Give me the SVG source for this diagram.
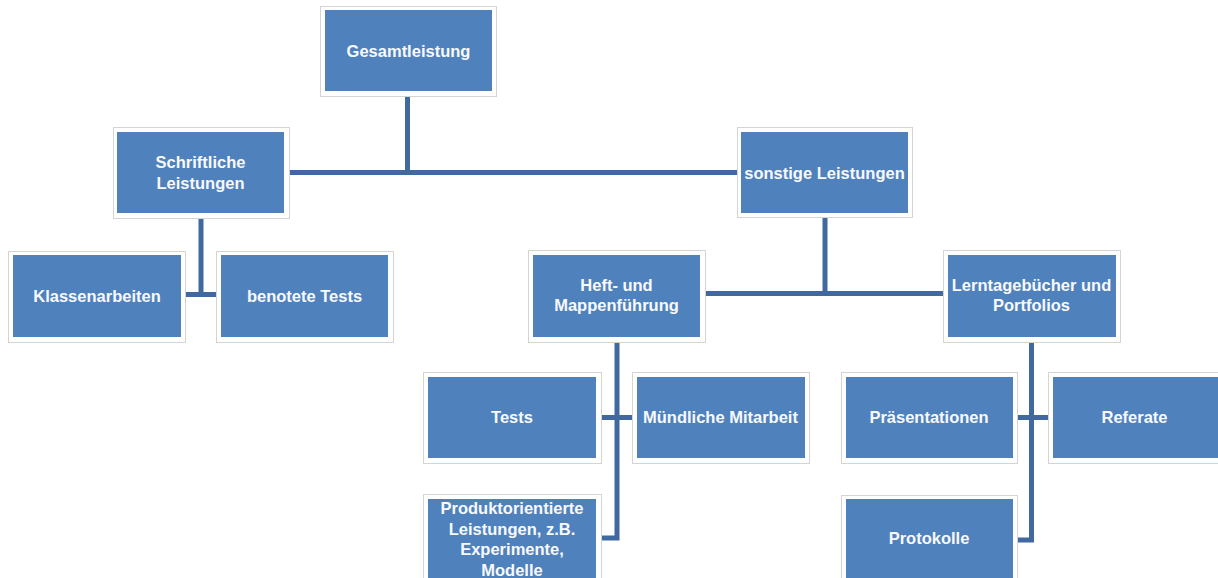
<svg xmlns="http://www.w3.org/2000/svg" width="1218" height="578" viewBox="0 0 1218 578">
<style>
.frame{fill:#ffffff;stroke:#d4d4d4;stroke-width:1}
.box{fill:#4f81bd}
.t{font-family:"Liberation Sans",Arial,sans-serif;font-weight:bold;font-size:16.5px;fill:#f8f9fb;text-anchor:middle;dominant-baseline:central}
.c{fill:none;stroke:#4169a0;stroke-width:5}
</style>
<rect width="1218" height="578" fill="#ffffff"/>
<g id="connectors">
<path class="c" d="M407.5 96 V172.5 M289 172.5 H737"/>
<path class="c" d="M201 218 V294.5 M185 294.5 H216"/>
<path class="c" d="M825 217 V293.5 M705 293.5 H943"/>
<path class="c" d="M617 342 V538 H601 M601 417.5 H632"/>
<path class="c" d="M1031.5 342 V540 H1017 M1017 417.5 H1048"/>
</g>
<g id="gesamtleistung">
<rect class="frame" x="320.5" y="6.5" width="176" height="90"/>
<rect class="box" x="325" y="10" width="167" height="81"/>
<text class="t" x="408.5" y="50.5">Gesamtleistung</text>
</g>
<g id="schriftliche">
<rect class="frame" x="113.5" y="127.5" width="176" height="91"/>
<rect class="box" x="117" y="132" width="167" height="81"/>
<text class="t" x="200.5" y="162">Schriftliche</text>
<text class="t" x="200.5" y="183">Leistungen</text>
</g>
<g id="sonstige">
<rect class="frame" x="737.5" y="127.5" width="175" height="90"/>
<rect class="box" x="741" y="132" width="167" height="81"/>
<text class="t" x="824.5" y="172.5">sonstige Leistungen</text>
</g>
<g id="klassenarbeiten">
<rect class="frame" x="8.5" y="251.5" width="177" height="91"/>
<rect class="box" x="13" y="255" width="168" height="82"/>
<text class="t" x="97" y="295.5">Klassenarbeiten</text>
</g>
<g id="benotete-tests">
<rect class="frame" x="216.5" y="251.5" width="177" height="91"/>
<rect class="box" x="221" y="255" width="167" height="82"/>
<text class="t" x="304.5" y="295.5">benotete Tests</text>
</g>
<g id="heft">
<rect class="frame" x="528.5" y="250.5" width="177" height="92"/>
<rect class="box" x="533" y="255" width="167" height="82"/>
<text class="t" x="616.5" y="284.5">Heft- und</text>
<text class="t" x="616.5" y="305">Mappenführung</text>
</g>
<g id="lerntagebuecher">
<rect class="frame" x="943.5" y="250.5" width="177" height="92"/>
<rect class="box" x="948" y="255" width="168" height="82"/>
<text class="t" x="1031.5" y="284.5">Lerntagebücher und</text>
<text class="t" x="1031.5" y="305">Portfolios</text>
</g>
<g id="tests">
<rect class="frame" x="423.5" y="372.5" width="178" height="91"/>
<rect class="box" x="428" y="377" width="168" height="81"/>
<text class="t" x="512" y="416.5">Tests</text>
</g>
<g id="muendliche">
<rect class="frame" x="632.5" y="372.5" width="177" height="91"/>
<rect class="box" x="637" y="377" width="168" height="81"/>
<text class="t" x="720.5" y="416.5">Mündliche Mitarbeit</text>
</g>
<g id="produktorientierte">
<rect class="frame" x="423.5" y="494.5" width="178" height="91"/>
<rect class="box" x="428" y="499" width="168" height="82"/>
<text class="t" x="512" y="508">Produktorientierte</text>
<text class="t" x="512" y="528.5">Leistungen, z.B.</text>
<text class="t" x="512" y="549">Experimente,</text>
<text class="t" x="512" y="569.5">Modelle</text>
</g>
<g id="praesentationen">
<rect class="frame" x="841.5" y="372.5" width="176" height="91"/>
<rect class="box" x="846" y="377" width="167" height="81"/>
<text class="t" x="929" y="416.5">Präsentationen</text>
</g>
<g id="referate">
<rect class="frame" x="1048.5" y="372.5" width="175" height="91"/>
<rect class="box" x="1053" y="377" width="168" height="81"/>
<text class="t" x="1134.5" y="416.5">Referate</text>
</g>
<g id="protokolle">
<rect class="frame" x="841.5" y="495.5" width="176" height="91"/>
<rect class="box" x="846" y="499" width="167" height="82"/>
<text class="t" x="929" y="538">Protokolle</text>
</g>
</svg>
